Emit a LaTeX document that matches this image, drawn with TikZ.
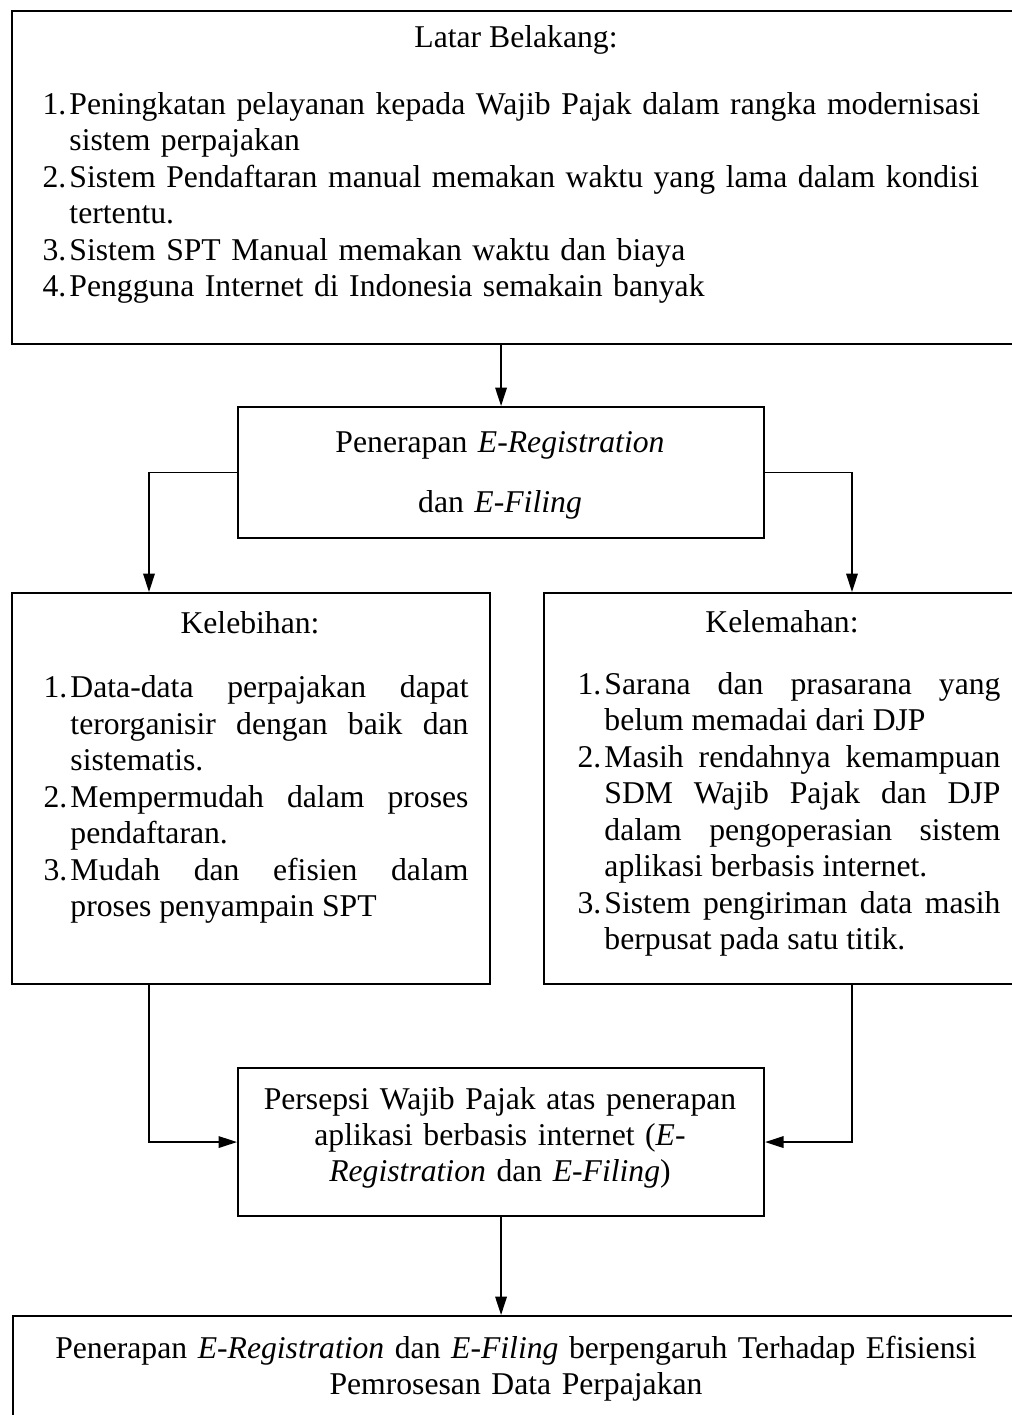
\documentclass[tikz,border=0pt]{standalone}
\usepackage{fontspec}
\setmainfont{Liberation Serif}
\usetikzlibrary{arrows.meta}

\newcommand{\satuan}{0.3788pt}
\newcommand{\butir}[2]{\par\noindent\hangindent=10.2pt\hangafter=1\makebox[10.2pt][l]{\strut#1}#2\par}

\tikzset{
  kotak/.style={draw, line width=0.8pt, inner sep=0pt, anchor=north west},
  teks/.style={inner sep=0pt, font=\fontsize{12pt}{13.8pt}\selectfont},
  panah/.style={line width=0.6pt, -{Triangle[length=7pt,width=4.4pt]}}
}

\begin{document}
\begin{tikzpicture}[x=0.3788pt, y=-0.3788pt]
\useasboundingbox (0,0) rectangle (1011,1415);

% kotak-kotak
\node[kotak, minimum width={1010*\satuan}, minimum height={333*\satuan}] (latar) at (11,10) {};
\node[kotak, minimum width={526*\satuan}, minimum height={131*\satuan}] (penerapan) at (237,406) {};
\node[kotak, minimum width={478*\satuan}, minimum height={391*\satuan}] (lebih) at (11,592) {};
\node[kotak, minimum width={478*\satuan}, minimum height={391*\satuan}] (lemah) at (543,592) {};
\node[kotak, minimum width={526*\satuan}, minimum height={148*\satuan}] (persepsi) at (237,1067) {};
\node[kotak, minimum width={1008*\satuan}, minimum height={150*\satuan}] (hasil) at (12,1315) {};

% isi
\node[teks, anchor=base] (judul-latar) at (516,47) {Latar Belakang:};
\node[teks, anchor=north west, text width={960*\satuan}, align=left] (isi-latar) at (42,77.5) {%
  \butir{1.}{Peningkatan pelayanan kepada Wajib Pajak dalam rangka modernisasi\newline sistem perpajakan}
  \butir{2.}{Sistem Pendaftaran manual memakan waktu yang lama dalam kondisi\newline tertentu.}
  \butir{3.}{Sistem SPT Manual memakan waktu dan biaya}
  \butir{4.}{Pengguna Internet di Indonesia semakain banyak}};

\node[teks, anchor=north, text width={500*\satuan}, align=center,
  font=\fontsize{12pt}{22.7pt}\selectfont] (judul-penerapan) at (500,410) {%
  \strut Penerapan \textit{E-Registration}\\ dan \textit{E-Filing}};

\node[teks, anchor=base] (judul-lebih) at (250,633) {Kelebihan:};
\node[teks, anchor=north west, text width={425*\satuan}, align=justify] (isi-lebih) at (43,661) {%
  \butir{1.}{Data-data perpajakan dapat\linebreak terorganisir dengan baik dan\linebreak sistematis.}
  \butir{2.}{Mempermudah dalam proses\linebreak pendaftaran.}
  \butir{3.}{Mudah dan efisien dalam\linebreak proses penyampain SPT}};

\node[teks, anchor=base] (judul-lemah) at (782,632) {Kelemahan:};
\node[teks, anchor=north west, text width={423*\satuan}, align=justify] (isi-lemah) at (577,657.5) {%
  \butir{1.}{Sarana dan prasarana yang\linebreak belum memadai dari DJP}
  \butir{2.}{Masih rendahnya kemampuan\linebreak SDM Wajib Pajak dan DJP\linebreak dalam pengoperasian sistem\linebreak aplikasi berbasis internet.}
  \butir{3.}{Sistem pengiriman data masih\linebreak berpusat pada satu titik.}};

\node[teks, anchor=north, text width={500*\satuan}, align=center] (isi-persepsi) at (500,1083) {%
  \strut Persepsi Wajib Pajak atas penerapan\\ aplikasi berbasis internet (\textit{E-}\\ \textit{Registration} dan \textit{E-Filing})};

\node[teks, anchor=north, text width={990*\satuan}, align=center] (isi-hasil) at (516,1332) {%
  \strut Penerapan \textit{E-Registration} dan \textit{E-Filing} berpengaruh Terhadap Efisiensi\\ Pemrosesan Data Perpajakan};

% panah
\coordinate (cabang-kiri) at (149,471.5);
\coordinate (cabang-kanan) at (852,471.5);
\draw[panah] (penerapan.north |- latar.south) -- (penerapan.north);
\draw[panah] (penerapan.west) -| (cabang-kiri |- lebih.north);
\draw[panah] (penerapan.east) -| (cabang-kanan |- lemah.north);
\draw[panah] (cabang-kiri |- lebih.south) |- (persepsi.west);
\draw[panah] (cabang-kanan |- lemah.south) |- (persepsi.east);
\draw[panah] (persepsi.south) -- (persepsi.south |- hasil.north);
\end{tikzpicture}
\end{document}
